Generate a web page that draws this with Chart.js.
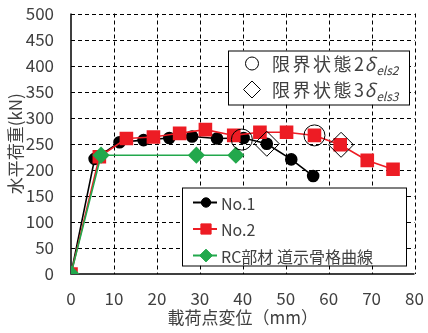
<!DOCTYPE html>
<html>
<head>
<meta charset="utf-8">
<script src="https://cdn.jsdelivr.net/npm/chart.js@4.4.1/dist/chart.umd.min.js"></script>
<style>
  html, body { margin: 0; padding: 0; background: #fff; }
  #wrap { width: 428px; height: 333px; position: relative; }
</style>
</head>
<body>
<div id="wrap"><canvas id="c"></canvas></div>
<script>
// Load–displacement data (displacement mm, horizontal load kN)
const no1Disp = [0, 5.5, 11.3, 16.9, 22.9, 28.2, 34.0, 40.2, 45.6, 51.3, 56.4];
const no1Load = [0, 221, 253, 257, 261, 264, 260, 261, 250, 220, 188];

const no2Disp = [0, 6.6, 12.9, 19.2, 25.3, 31.3, 37.9, 44.0, 50.2, 56.7, 62.7, 69.0, 75.0];
const no2Load = [0, 225, 260, 263, 270, 277, 266, 272, 272, 266, 248, 218, 201];

const rcDisp = [0, 7.0, 29.2, 38.4];
const rcLoad = [0, 228, 228, 228];

// Limit-state markers
const ls2Disp = [39.8, 56.7];
const ls2Load = [258, 266];
const ls3Disp = [45.6, 62.9];
const ls3Load = [250, 248];

const xTicks = [0, 10, 20, 30, 40, 50, 60, 70, 80];
const yTicks = [0, 50, 100, 150, 200, 250, 300, 350, 400, 450, 500];

const seriesNames = ['No.1', 'No.2', 'RC部材 道示骨格曲線'];
const limitNames = [['限界状態2', 'els2'], ['限界状態3', 'els3']];
const xTitle = '載荷点変位（mm）';
const yTitle = '水平荷重(kN)';

const pts = (xs, ys) => xs.map((x, i) => ({ x: x, y: ys[i] }));

const FONT = '"Noto Sans CJK JP", "Noto Sans", sans-serif';
const TXT = '#404040';
const RED = '#ED1C24';
const GREEN = '#22A84C';

// Dashed grid at every tick, solid left and bottom axis lines
const gridLines = {
  id: 'gridLines',
  beforeDatasetsDraw(chart) {
    const ctx = chart.ctx, a = chart.chartArea;
    const xs = chart.scales.x, ys = chart.scales.y;
    ctx.save();
    ctx.strokeStyle = '#000';
    ctx.lineWidth = 1;
    ctx.setLineDash([4, 3]);
    xTicks.forEach(v => {
      if (v === xTicks[0]) return;
      const px = Math.round(xs.getPixelForValue(v)) + 0.5;
      ctx.beginPath(); ctx.moveTo(px, a.top); ctx.lineTo(px, a.bottom); ctx.stroke();
    });
    yTicks.forEach(v => {
      if (v === yTicks[0]) return;
      const py = Math.round(ys.getPixelForValue(v)) + 0.5;
      ctx.beginPath(); ctx.moveTo(a.left, py); ctx.lineTo(a.right, py); ctx.stroke();
    });
    ctx.setLineDash([]);
    ctx.lineWidth = 1.5;
    ctx.beginPath();
    ctx.moveTo(a.left, a.top); ctx.lineTo(a.left, a.bottom); ctx.lineTo(a.right, a.bottom);
    ctx.stroke();
    ctx.restore();
  }
};

// Two framed legends drawn inside the plot area
const boxedLegends = {
  id: 'boxedLegends',
  afterDraw(chart) {
    const ctx = chart.ctx;
    const a = chart.chartArea;
    ctx.save();

    // Upper box: limit states
    const b1 = { x: a.left + 157, y: a.top + 37, w: 181, h: 54 };
    ctx.fillStyle = '#fff';
    ctx.fillRect(b1.x, b1.y, b1.w, b1.h);
    ctx.strokeStyle = '#000';
    ctx.lineWidth = 1;
    ctx.strokeRect(b1.x + 0.5, b1.y + 0.5, b1.w, b1.h);

    const rows1 = [b1.y + 13, b1.y + 39];
    ctx.beginPath();
    ctx.arc(b1.x + 24, rows1[0], 6.5, 0, Math.PI * 2);
    ctx.stroke();
    const dx = b1.x + 24, dy = rows1[1], r = 8.5;
    ctx.beginPath();
    ctx.moveTo(dx, dy - r); ctx.lineTo(dx + r, dy); ctx.lineTo(dx, dy + r); ctx.lineTo(dx - r, dy); ctx.closePath();
    ctx.stroke();

    ctx.fillStyle = TXT;
    ctx.textBaseline = 'alphabetic';
    limitNames.forEach((lab, i) => {
      let x = b1.x + 44;
      const base = rows1[i] + 7;
      ctx.font = '18px ' + FONT;
      ctx.letterSpacing = '2.5px';
      ctx.fillText(lab[0], x, base);
      x += ctx.measureText(lab[0]).width - 2;
      ctx.letterSpacing = '0px';
      ctx.font = 'italic 18px ' + FONT;
      ctx.fillText('δ', x, base);
      x += ctx.measureText('δ').width + 1;
      ctx.font = 'italic 12px ' + FONT;
      ctx.fillText(lab[1], x, base + 4);
    });

    // Lower box: series
    const b2 = { x: a.left + 111, y: a.top + 174, w: 224, h: 78 };
    ctx.fillStyle = '#fff';
    ctx.fillRect(b2.x, b2.y, b2.w, b2.h);
    ctx.strokeStyle = '#000';
    ctx.strokeRect(b2.x + 0.5, b2.y + 0.5, b2.w, b2.h);

    const ds = chart.data.datasets;
    [0, 1, 2].forEach((k, i) => {
      const d = ds[k];
      const cy = b2.y + 15 + i * 26.5;
      const x0 = b2.x + 11, x1 = b2.x + 35, cx = b2.x + 24;
      ctx.strokeStyle = d.borderColor;
      ctx.lineWidth = 2;
      ctx.beginPath(); ctx.moveTo(x0, cy); ctx.lineTo(x1, cy); ctx.stroke();
      ctx.fillStyle = d.pointBackgroundColor;
      ctx.strokeStyle = d.pointBorderColor;
      ctx.lineWidth = 1;
      Chart.helpers.drawPoint(ctx, {
        pointStyle: d.pointStyle, radius: d.pointRadius * 0.85, rotation: 0, borderWidth: 1
      }, cx, cy);
      ctx.fillStyle = TXT;
      ctx.font = '16px ' + FONT;
      ctx.textBaseline = 'middle';
      ctx.fillText(seriesNames[k], b2.x + 39, cy + 1);
    });
    ctx.restore();
  }
};

new Chart(document.getElementById('c'), {
  type: 'line',
  data: {
    datasets: [
      {
        label: seriesNames[0], data: pts(no1Disp, no1Load),
        borderColor: '#000', borderWidth: 1.6,
        pointStyle: 'circle', pointRadius: 5.5,
        pointBackgroundColor: '#000', pointBorderColor: '#000', order: 3
      },
      {
        label: seriesNames[1], data: pts(no2Disp, no2Load),
        borderColor: RED, borderWidth: 1.6,
        pointStyle: 'rect', pointRadius: 8.5,
        pointBackgroundColor: RED, pointBorderColor: RED, order: 2
      },
      {
        label: seriesNames[2], data: pts(rcDisp, rcLoad),
        borderColor: GREEN, borderWidth: 1.6,
        pointStyle: 'rectRot', pointRadius: 7.5,
        pointBackgroundColor: GREEN, pointBorderColor: GREEN, order: 1
      },
      {
        label: limitNames[0][0], data: pts(ls2Disp, ls2Load), showLine: false,
        pointStyle: 'circle', pointRadius: 10.5, pointBorderWidth: 1,
        pointBackgroundColor: 'rgba(0,0,0,0)', pointBorderColor: '#000', order: 0
      },
      {
        label: limitNames[1][0], data: pts(ls3Disp, ls3Load), showLine: false,
        pointStyle: 'rectRot', pointRadius: 12.5, pointBorderWidth: 1,
        pointBackgroundColor: 'rgba(0,0,0,0)', pointBorderColor: '#000', order: 0
      }
    ]
  },
  options: {
    responsive: true,
    maintainAspectRatio: false,
    animation: false,
    layout: { padding: { top: 11, right: 12, left: 0, bottom: 0 } },
    plugins: { legend: { display: false }, tooltip: { enabled: false } },
    elements: { line: { tension: 0 }, point: { hoverRadius: 0 } },
    scales: {
      x: {
        type: 'linear', min: 0, max: 80,
        afterBuildTicks: s => { s.ticks = xTicks.map(v => ({ value: v })); },
        afterFit: s => { s.height = 59; s.paddingLeft = 0; s.paddingRight = 0; },
        grid: { display: false, drawTicks: false },
        border: { display: false },
        ticks: { color: TXT, font: { family: FONT, size: 17 }, padding: 14, maxRotation: 0 },
        title: { display: true, text: xTitle, color: TXT, font: { family: FONT, size: 17 }, padding: { top: 0, bottom: 5 } }
      },
      y: {
        type: 'linear', min: 0, max: 500,
        afterBuildTicks: s => { s.ticks = yTicks.map(v => ({ value: v })); },
        afterFit: s => { s.width = 71; s.paddingTop = 0; s.paddingBottom = 0; },
        grid: { display: false, drawTicks: false },
        border: { display: false },
        ticks: { color: TXT, font: { family: FONT, size: 17 }, padding: 17 },
        title: { display: true, text: yTitle, color: TXT, font: { family: FONT, size: 17 }, padding: { top: 5, bottom: 0 } }
      }
    }
  },
  plugins: [gridLines, boxedLegends]
});
</script>
</body>
</html>
